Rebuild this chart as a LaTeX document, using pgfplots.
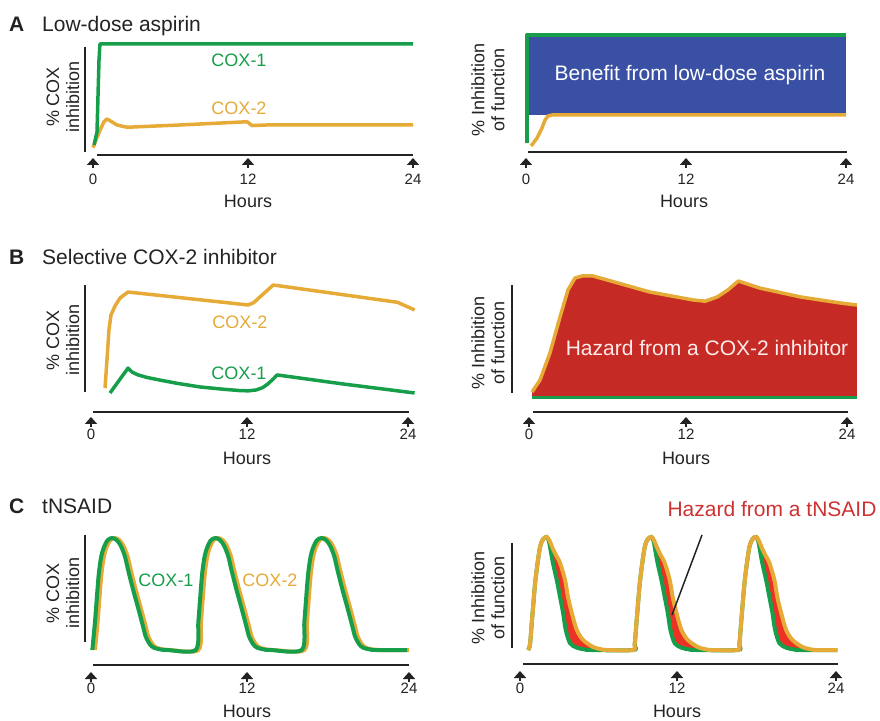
\documentclass[border=0pt]{standalone}
\usepackage{pgfplots}
\pgfplotsset{compat=1.18}
\usepackage{pgfplotstable}
\usetikzlibrary{arrows.meta}
\usepackage{fontspec}
\setmainfont{Liberation Sans}

\definecolor{cgreen}{RGB}{22,158,74}
\definecolor{corange}{RGB}{230,170,55}
\definecolor{cblue}{RGB}{58,80,165}
\definecolor{cred}{RGB}{198,42,36}
\definecolor{cred2}{RGB}{236,50,36}
\definecolor{chaz}{RGB}{205,50,50}
\definecolor{ctext}{RGB}{35,35,35}

\newcommand{\ttl}{\fontsize{21}{25}\selectfont}
\newcommand{\lbl}{\fontsize{18}{20}\selectfont}
\newcommand{\tck}{\fontsize{15}{18}\selectfont}
\newcommand{\bigtxt}{\fontsize{21}{25}\selectfont}

\pgfplotsset{panel/.style={scale only axis, hide axis, clip=false,
  xmin=0, xmax=24, ymin=0, ymax=100, anchor=south west}}

% ---------- data ----------
\pgfplotstableread{
x y
0.08 6.5
0.3 18.5
0.45 85
0.52 100
24 100
}\greenAL
\pgfplotstableread{
x y
0.0 4
0.22 11
0.52 20
0.82 28
1.05 30.6
1.43 27.8
1.8 25
2.55 22.9
6.5 25
11.55 28
11.93 24.5
13 25
24 25
}\orangeAL
\pgfplotstableread{
x y
0.08 4.4
0.08 100
24 100
}\greenAR
\pgfplotstableread{
x y
0.38 1.8
0.83 8.8
1.2 17.7
1.43 24.8
1.65 28.3
1.95 29.2
24 29.2
}\orangeAR
\pgfplotstableread{
x y
1.06 4.6
1.21 30.6
1.36 58.3
1.51 72.2
1.82 80.6
2.2 88
2.8 93.5
11.9 81.5
12.3 83.5
13.8 100
23.2 84
24.5 76.9
}\orangeBL
\pgfplotstableread{
x y
1.44 0
2.8 23
3.1 19.5
3.5 17
4.2 14.5
5.2 12
6.5 9
8.25 5.6
10 3.5
11.2 2.3
11.9 2
12.5 2.8
13.0 5
13.4 8.5
13.8 13
14.1 16.7
19 8.5
24.5 0
}\greenBL
\pgfplotstableread{
x y
0.23 3.3
0.83 13.3
1.58 35.8
2.34 65.8
2.94 88.3
3.47 98.3
4.0 100
4.83 100
5.9 96.7
9.1 86.7
12.4 80
13.3 79
14.2 82.5
15.0 88.3
15.8 95.8
17.4 90
20.5 82.5
23.5 77.5
24.75 75.8
}\orangeBR
\pgfplotstableread{
x y
0.1 0
0.3 25
0.43 45
0.58 67
0.75 82
0.95 91
1.25 98
1.6 100
1.95 98
2.25 93
2.55 84
2.77 73
3.0 62
3.22 52
3.5 40
3.75 29
3.95 20
4.13 12
4.45 5
4.75 2
5.25 0.5
5.75 0
7.9 0
8.1 25
8.23 45
8.38 67
8.55 82
8.75 91
9.05 98
9.4 100
9.75 98
10.05 93
10.35 84
10.57 73
10.8 62
11.02 52
11.3 40
11.55 29
11.75 20
11.93 12
12.25 5
12.55 2
13.05 0.5
13.55 0
15.9 0
16.1 25
16.23 45
16.38 67
16.55 82
16.75 91
17.05 98
17.4 100
17.75 98
18.05 93
18.35 84
18.57 73
18.8 62
19.02 52
19.3 40
19.55 29
19.75 20
19.93 12
20.25 5
20.55 2
21.05 0.5
21.55 0
23.85 0
}\greenCL
\pgfplotstableread{
x y
0.3 0
0.5 25
0.63 45
0.78 67
0.95 82
1.15 91
1.45 98
1.8 100
2.15 98
2.45 93
2.75 84
2.97 73
3.2 62
3.42 52
3.7 40
3.95 29
4.15 20
4.33 12
4.65 5
4.95 2
5.45 0.5
5.95 0
8.1 0
8.3 25
8.43 45
8.58 67
8.75 82
8.95 91
9.25 98
9.6 100
9.95 98
10.25 93
10.55 84
10.77 73
11.0 62
11.22 52
11.5 40
11.75 29
11.95 20
12.13 12
12.45 5
12.75 2
13.25 0.5
13.75 0
16.1 0
16.3 25
16.43 45
16.58 67
16.75 82
16.95 91
17.25 98
17.6 100
17.95 98
18.25 93
18.55 84
18.77 73
19.0 62
19.22 52
19.5 40
19.75 29
19.95 20
20.13 12
20.45 5
20.75 2
21.25 0.5
21.75 0
24.0 0
}\orangeCL
\pgfplotstableread{
x y
0.62 0
0.76 5
0.9 25
0.99 37.5
1.13 57
1.29 73
1.52 91
1.75 98
2.03 100
2.23 97
2.48 90
2.73 84
3.04 77
3.42 62
3.64 47
3.93 33
4.3 18
4.78 9
5.54 2.7
6.1 0.8
6.6 0
8.57 0
8.71 5
8.85 25
8.94 37.5
9.08 57
9.24 73
9.47 91
9.7 98
9.98 100
10.18 97
10.43 90
10.68 84
10.99 77
11.37 62
11.59 47
11.88 33
12.25 18
12.73 9
13.49 2.7
14.05 0.8
14.55 0
16.52 0
16.66 5
16.8 25
16.89 37.5
17.03 57
17.19 73
17.42 91
17.65 98
17.93 100
18.13 97
18.38 90
18.63 84
18.94 77
19.32 62
19.54 47
19.83 33
20.2 18
20.68 9
21.44 2.7
22.0 0.8
22.5 0
24.1 0
}\orangeCR
\pgfplotstableread{
x y
0.62 0
0.76 5
0.9 25
0.99 37.5
1.13 57
1.29 73
1.52 91
1.75 98
2.03 100
2.2 96
2.33 88
2.5 77
2.79 62
3.04 47
3.27 33
3.47 18
3.8 6
4.33 2
4.9 0.5
5.4 0
8.57 0
8.71 5
8.85 25
8.94 37.5
9.08 57
9.24 73
9.47 91
9.7 98
9.98 100
10.15 96
10.28 88
10.45 77
10.74 62
10.99 47
11.22 33
11.42 18
11.75 6
12.28 2
12.85 0.5
13.35 0
16.52 0
16.66 5
16.8 25
16.89 37.5
17.03 57
17.19 73
17.42 91
17.65 98
17.93 100
18.1 96
18.23 88
18.4 77
18.69 62
18.94 47
19.17 33
19.37 18
19.7 6
20.23 2
20.8 0.5
21.3 0
24.1 0
}\greenCR

\newcommand{\uparr}[3]{\draw[line width=2.5pt, ctext, -{Triangle[width=12pt,length=7pt]}] (#1,#3) -- (#1,#2);}
\newcommand{\ticks}[6]{%
  \uparr{#1}{#4}{#5}\uparr{#2}{#4}{#5}\uparr{#3}{#4}{#5}%
  \node[anchor=base, inner sep=0pt, ctext, font=\tck] at (#1,#6) {0};%
  \node[anchor=base, inner sep=0pt, ctext, font=\tck] at (#2,#6) {12};%
  \node[anchor=base, inner sep=0pt, ctext, font=\tck] at (#3,#6) {24};}

\begin{document}
\begin{tikzpicture}
\useasboundingbox (0,0) rectangle (880pt,720pt);

% ---------- A left ----------
\begin{axis}[panel, at={(93pt,568pt)}, width=320pt, height=108pt]
\addplot[corange, line width=3.5pt, line join=round] table {\orangeAL};
\addplot[cgreen, line width=3.5pt, line join=round] table {\greenAL};
\end{axis}
% ---------- A right ----------
\begin{axis}[panel, at={(526pt,572pt)}, width=320pt, height=113pt]
\addplot[fill=cblue, draw=none] coordinates {(0.08,29.2) (24,29.2) (24,100) (0.08,100)} -- cycle;
\addplot[cgreen, line width=3.5pt, line join=round] table {\greenAR};
\addplot[corange, line width=3.5pt, line join=round] table {\orangeAR};
\end{axis}
% ---------- B left ----------
\begin{axis}[panel, at={(91pt,327pt)}, width=317pt, height=108pt]
\addplot[corange, line width=3.5pt, line join=round] table {\orangeBL};
\addplot[cgreen, line width=3.5pt, line join=round] table {\greenBL};
\end{axis}
% ---------- B right ----------
\begin{axis}[panel, at={(529pt,324pt)}, width=318pt, height=120pt]
\addplot[fill=cred, draw=none] table {\orangeBR} \closedcycle;
\addplot[cgreen, line width=3.5pt] coordinates {(0.23,-1.2) (24.75,-1.2)};
\addplot[corange, line width=3.5pt, line join=round] table {\orangeBR};
\end{axis}
% ---------- C left ----------
\begin{axis}[panel, at={(91pt,70pt)}, width=318pt, height=112pt]
\addplot[corange, line width=4pt, smooth, tension=0.5] table {\orangeCL};
\addplot[cgreen, line width=4pt, smooth, tension=0.5] table {\greenCL};
\end{axis}
% ---------- C right ----------
\begin{axis}[panel, at={(520pt,70pt)}, width=316pt, height=113pt]
\addplot[fill=cred2, draw=none, smooth, tension=0.5] table {\orangeCR} \closedcycle;
\addplot[fill=white, draw=white, line width=1.5pt, smooth, tension=0.5] table {\greenCR} \closedcycle;
\addplot[cgreen, line width=4pt, smooth, tension=0.5] table {\greenCR};
\addplot[corange, line width=4pt, smooth, tension=0.5] table {\orangeCR};
\end{axis}

% ---------- decorations (pixel coordinates, y downward) ----------
\begin{scope}[shift={(0pt,720pt)}, x=1pt, y=-1pt]
% titles
\node[anchor=base west, inner sep=0pt, font=\ttl\bfseries, ctext] at (9,32) {A};
\node[anchor=base west, inner sep=0pt, font=\ttl, ctext] at (42,32) {Low-dose aspirin};
\node[anchor=base west, inner sep=0pt, font=\ttl\bfseries, ctext] at (9,265) {B};
\node[anchor=base west, inner sep=0pt, font=\ttl, ctext] at (42,265) {Selective COX-2 inhibitor};
\node[anchor=base west, inner sep=0pt, font=\ttl\bfseries, ctext] at (9,514) {C};
\node[anchor=base west, inner sep=0pt, font=\ttl, ctext] at (42,514) {tNSAID};

% y labels
\foreach \yy in {97,340,593}{
  \node[rotate=90, align=center, font=\lbl, ctext, inner sep=0pt] at (63,\yy) {\% COX\\inhibition};}
\node[rotate=90, align=center, font=\lbl, ctext, inner sep=0pt] at (488,90) {\% Inhibition\\of function};
\node[rotate=90, align=center, font=\lbl, ctext, inner sep=0pt] at (488,343) {\% Inhibition\\of function};
\node[rotate=90, align=center, font=\lbl, ctext, inner sep=0pt] at (488,598) {\% Inhibition\\of function};

% axis lines
\draw[line width=2.5pt, ctext] (85,47) -- (85,152);
\draw[line width=2.5pt, ctext] (97,155) -- (413,155);
\draw[line width=2.5pt, ctext] (528,152) -- (847,152);
\draw[line width=2.5pt, ctext] (85,285) -- (85,392);
\draw[line width=2.5pt, ctext] (93,412) -- (409,412);
\draw[line width=2.5pt, ctext] (512,285) -- (512,393);
\draw[line width=2.5pt, ctext] (533,412) -- (848,412);
\draw[line width=2.5pt, ctext] (85,535) -- (85,642);
\draw[line width=2.5pt, ctext] (93,665) -- (409,665);
\draw[line width=2.5pt, ctext] (512,543) -- (512,648);
\draw[line width=2.5pt, ctext] (523,664) -- (838,664);

% tick arrows and labels
\ticks{93}{248}{413}{158}{168}{185}
\ticks{526}{686}{846}{158}{168}{185}
\ticks{91}{247}{408}{417}{427}{440}
\ticks{529}{686}{847}{417}{427}{440}
\ticks{91}{247}{409}{672}{682}{693}
\ticks{520}{677}{836}{671}{681}{693}

% Hours
\node[anchor=base, inner sep=0pt, font=\lbl, ctext] at (248,208) {Hours};
\node[anchor=base, inner sep=0pt, font=\lbl, ctext] at (684,208) {Hours};
\node[anchor=base, inner sep=0pt, font=\lbl, ctext] at (247,465) {Hours};
\node[anchor=base, inner sep=0pt, font=\lbl, ctext] at (686,465) {Hours};
\node[anchor=base, inner sep=0pt, font=\lbl, ctext] at (247,717) {Hours};
\node[anchor=base, inner sep=0pt, font=\lbl, ctext] at (677,717) {Hours};

% series labels
\node[font=\lbl, cgreen] at (239,60) {COX-1};
\node[font=\lbl, corange] at (239,108) {COX-2};
\node[font=\lbl, corange] at (240,322) {COX-2};
\node[font=\lbl, cgreen] at (239,373) {COX-1};
\node[font=\lbl, cgreen] at (166,580) {COX-1};
\node[font=\lbl, corange] at (270,580) {COX-2};

% annotations
\node[font=\bigtxt, white] at (690,75) {Benefit from low-dose aspirin};
\node[font=\bigtxt, white!92!red] at (707,348) {Hazard from a COX-2 inhibitor};
\node[font=\bigtxt, chaz] at (772,509) {Hazard from a tNSAID};
\draw[line width=1.5pt, ctext] (702,535) -- (672,615);
\end{scope}
\end{tikzpicture}
\end{document}
